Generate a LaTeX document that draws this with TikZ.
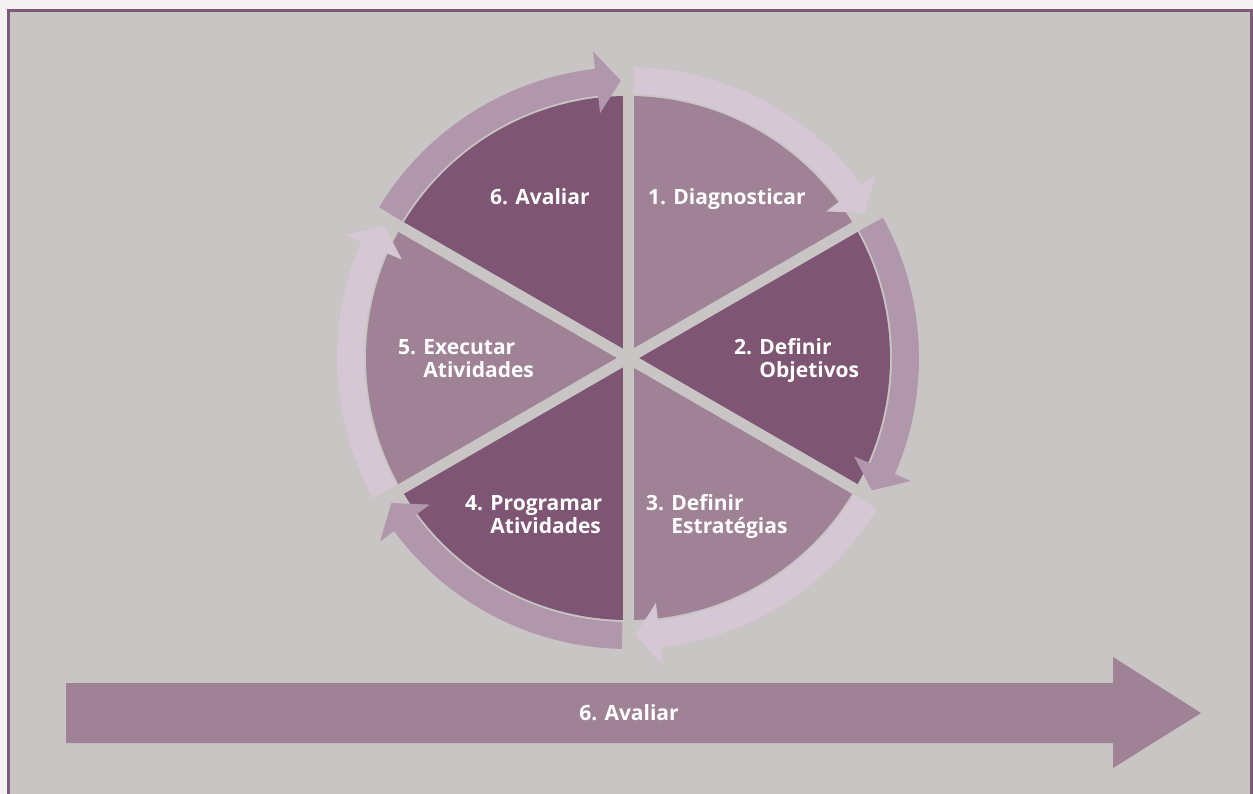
\documentclass[tikz,border=0pt]{standalone}
\usepackage{fontspec}
\setmainfont{Open Sans}
\definecolor{pagebg}{HTML}{F3F1F2}
\definecolor{panelbg}{HTML}{C8C5C4}
\definecolor{framec}{HTML}{7D5A78}
\definecolor{darkw}{HTML}{7E5573}
\definecolor{midw}{HTML}{A08296}
\definecolor{armid}{HTML}{B197AB}
\definecolor{arlight}{HTML}{D5C7D3}
\begin{document}
\begin{tikzpicture}[x=1pt,y=1pt,
  lab/.style={text=white,font=\bfseries\fontsize{21}{23}\selectfont,inner sep=0pt,anchor=base west},
  gapbar/.style={draw=panelbg,line width=11pt}]
\useasboundingbox (0,0) rectangle (1253,-794);
\clip (0,0) rectangle (1253,-794);
\fill[pagebg] (0,0) rectangle (1253,-794);
\filldraw[fill=panelbg,draw=framec,line width=2.5pt] (8.5,-10.5) rectangle (1251.5,-810);
% pie
\begin{scope}[shift={(628,-358)}]
  \fill[midw]  (0,0) -- (30:262) arc[start angle=30,end angle=90,radius=262] -- cycle;
  \fill[darkw] (0,0) -- (-30:262) arc[start angle=-30,end angle=30,radius=262] -- cycle;
  \fill[midw]  (0,0) -- (-90:262) arc[start angle=-90,end angle=-30,radius=262] -- cycle;
  \fill[darkw] (0,0) -- (-150:262) arc[start angle=-150,end angle=-90,radius=262] -- cycle;
  \fill[midw]  (0,0) -- (150:262) arc[start angle=150,end angle=210,radius=262] -- cycle;
  \fill[darkw] (0,0) -- (90:262) arc[start angle=90,end angle=150,radius=262] -- cycle;
  \foreach \a in {30,90,150,210,270,330} \draw[gapbar] (0,0) -- (\a:266);
  % ring arrows
  \foreach \s/\t/\c in {88.8/31.5/arlight, 28.8/-28.5/armid, -31.2/-88.5/arlight,
                        -91.2/-148.5/armid, -151.2/-208.5/arlight, 148.8/91.5/armid}{
    \pgfmathsetmacro{\b}{\t+5}
    \fill[\c] (\s:291) arc[start angle=\s,end angle=\b,radius=291]
      -- (\b:308.5) -- (\t:277.5) -- (\b:246.5) -- (\b:264)
      arc[start angle=\b,end angle=\s,radius=264] -- cycle;
  }
\end{scope}
\node[lab] (l1) at (648,-205) {1. Diagnosticar};
\node[lab] (l6) at (490,-205) {6. Avaliar};
\node[lab] (l2) at (734,-354) {\begin{tabular}[t]{@{}l@{ }l@{}}2.&Definir\\&Objetivos\end{tabular}};
\node[lab] (l5) at (398,-354) {\begin{tabular}[t]{@{}l@{ }l@{}}5.&Executar\\&Atividades\end{tabular}};
\node[lab] (l3) at (646,-510) {\begin{tabular}[t]{@{}l@{ }l@{}}3.&Definir\\&Estratégias\end{tabular}};
\node[lab] (l4) at (465,-510) {\begin{tabular}[t]{@{}l@{ }l@{}}4.&Programar\\&Atividades\end{tabular}};
% bottom arrow
\fill[midw] (66,-683) -- (1113,-683) -- (1113,-657) -- (1201,-713) -- (1113,-768) -- (1113,-743) -- (66,-743) -- cycle;
\node[lab,anchor=base] (lb) at (629,-720) {6. Avaliar};
\end{tikzpicture}
\end{document}
